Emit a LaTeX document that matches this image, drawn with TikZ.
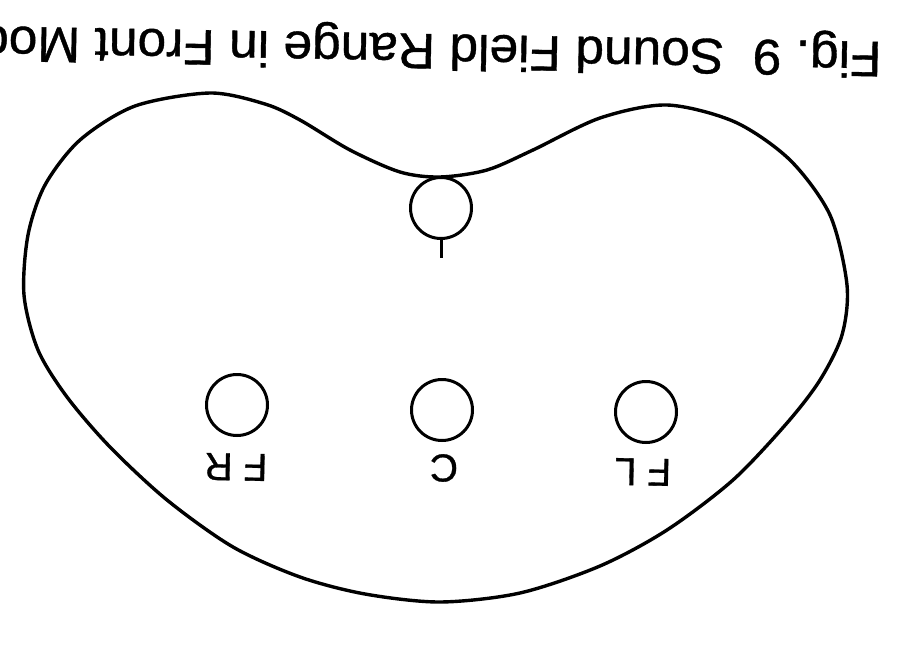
\documentclass[tikz,border=0pt]{standalone}
\usepackage{fontspec}
\setmainfont{Liberation Sans}
\newfontfamily\scanfont[FakeBold=0.8]{Liberation Sans}
\begin{document}
\begin{tikzpicture}[x=1pt,y=-1pt,
  blob/.style={line width=3.4pt, line join=round},
  spk/.style={circle, draw, line width=3pt, minimum size=61pt, inner sep=0pt},
  lbl/.style={rotate=179, font=\scanfont\fontsize{39}{44}\selectfont, inner sep=0pt},
  ttl/.style={rotate=179, font=\scanfont\fontsize{50}{56}\selectfont, inner sep=0pt, anchor=base west}]
\useasboundingbox (0,0) rectangle (903,648);
\clip (0,0) rectangle (903,648);
\fill[white] (0,0) rectangle (903,648);
\node[ttl] (title) at (882,42) {\scalebox{1.03}[1]{Fig.~9\ \ Sound Field Range in Front Mode}};
\draw[blob] plot[smooth cycle, tension=0.5] coordinates {
 (440,177) (487,170) (533,150) (600,118) (667,105) (735,122) (790,160) (830,215)
 (847,285) (842,335) (820,380) (787,423) (733,480) (667,530) (600,566) (520,593)
 (440,602) (365,594) (300,577) (233,547) (167,500) (110,447) (67,397) (38,350)
 (24,295) (28,235) (45,185) (80,140) (135,106) (210,93) (265,104) (300,120)
 (350,150) (400,172)};
\node[spk] (listener) at (441,208) {};
\coordinate (nose) at (441,258);
\draw[line width=3pt] (listener.south) -- (nose);
\node[spk] (fr) at (237,405) {};
\node[spk] (c) at (442,410) {};
\node[spk] (fl) at (646,412) {};
\node[lbl] (frl) at (236,467) {F R};
\node[lbl] (cl) at (444,468) {C};
\node[lbl] (fll) at (643,472) {F L};
\end{tikzpicture}
\end{document}
